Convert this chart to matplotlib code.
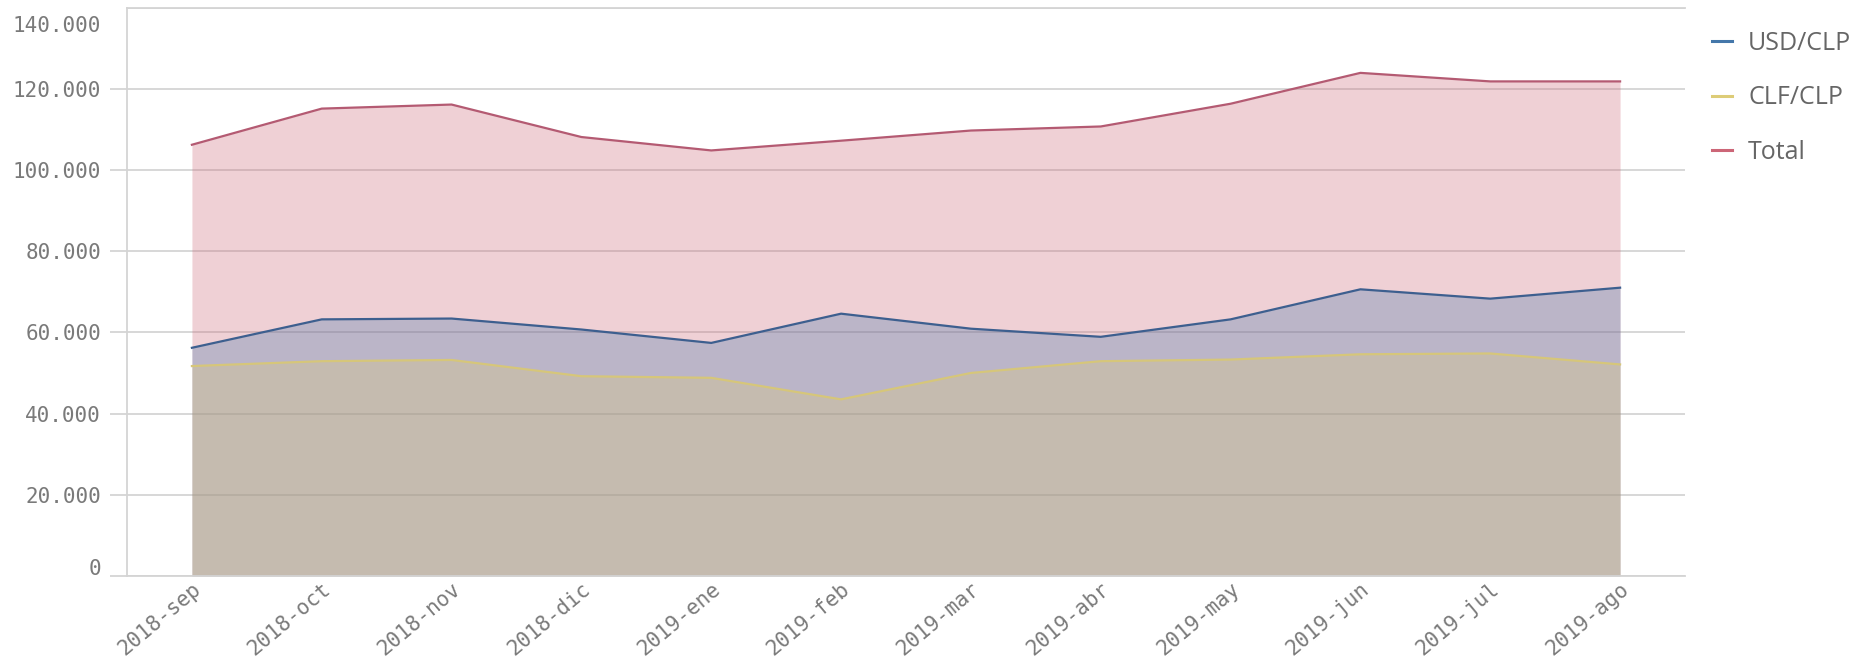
import matplotlib
matplotlib.use("Agg")
import matplotlib.pyplot as plt
import matplotlib.transforms as mtransforms
from matplotlib.ticker import FuncFormatter
from matplotlib.lines import Line2D

# Data
months = ["2018-sep", "2018-oct", "2018-nov", "2018-dic", "2019-ene", "2019-feb",
          "2019-mar", "2019-abr", "2019-may", "2019-jun", "2019-jul", "2019-ago"]
usd_clp = [56200, 63200, 63400, 60700, 57400, 64600, 60900, 58900, 63200, 70600, 68300, 71000]
clf_clp = [51700, 52900, 53200, 49200, 48800, 43500, 50000, 52900, 53300, 54600, 54800, 52100]
total = [106200, 115100, 116100, 108100, 104800, 107200, 109700, 110700, 116300, 123900, 121800, 121800]

# name, values, fill colour, line colour
series = [("USD/CLP", usd_clp, "#4477aa", "#3d5f8f"),
          ("CLF/CLP", clf_clp, "#ddcc77", "#d6c67a"),
          ("Total", total, "#cc6677", "#b45a72")]

fig = plt.figure(figsize=(18.64, 6.69), dpi=100)
ax = fig.add_axes([127 / 1864, 1 - 576 / 669, (1685 - 127) / 1864, (576 - 7.5) / 669])

x = list(range(len(months)))

# Areas overlap (not stacked): Total at the back, then USD, then CLF
draw_order = [series[2], series[0], series[1]]
for name, vals, col, lcol in draw_order:
    ax.fill_between(x, 0, vals, color=col, alpha=0.3, linewidth=0, zorder=2)
for name, vals, col, lcol in draw_order:
    ax.plot(x, vals, color=lcol, linewidth=1.6, zorder=3)

ax.set_xlim(-0.5, 11.5)
ax.set_ylim(0, 140000)

grid_col = "#d4d4d4"
ax.set_yticks(range(0, 140001, 20000))
ax.yaxis.set_major_formatter(FuncFormatter(lambda v, p: f"{int(v):,}".replace(",", ".")))
ax.grid(axis="y", color=grid_col, linewidth=1.3, zorder=1)
ax.set_axisbelow(True)

for side in ["left", "bottom", "top"]:
    ax.spines[side].set_color(grid_col)
    ax.spines[side].set_linewidth(1.3)
ax.spines["right"].set_visible(False)

ax.tick_params(axis="y", length=12.2, width=1.3, color=grid_col, pad=6.5,
               labelsize=15, labelcolor="#7a7a7a")
for lab in ax.get_yticklabels():
    lab.set_fontfamily("DejaVu Sans Mono")

# top label sits below the frame, bottom label above the axis line
ylabels = ax.get_yticklabels()
ylabels[-1].set_transform(ylabels[-1].get_transform() +
                          mtransforms.ScaledTranslation(0, -17 / 100, fig.dpi_scale_trans))
ylabels[0].set_transform(ylabels[0].get_transform() +
                         mtransforms.ScaledTranslation(0, 9 / 100, fig.dpi_scale_trans))
ax.yaxis.get_major_ticks()[-1].tick1line.set_visible(False)

ax.set_xticks(x)
ax.set_xticklabels(months, rotation=40, ha="right", va="top", rotation_mode="anchor",
                   fontsize=15, color="#7a7a7a", fontfamily="DejaVu Sans Mono")
ax.tick_params(axis="x", length=0, pad=2)
for lab in ax.get_xticklabels():
    lab.set_transform(lab.get_transform() +
                      mtransforms.ScaledTranslation(0 / 100, 0, fig.dpi_scale_trans))

handles = [Line2D([], [], color=col, linewidth=2.2) for _, _, col, _ in series]
ax.legend(handles, [s[0] for s in series], loc="upper left",
          bbox_to_anchor=(1712 / 1864, 1 - 31 / 669), bbox_transform=fig.transFigure,
          frameon=False, borderpad=0, borderaxespad=0, handlelength=0.8,
          handletextpad=0.65, labelspacing=1.18,
          prop={"family": "Open Sans", "size": 18}, labelcolor="#666666")

fig.savefig("out.png", dpi=100)
